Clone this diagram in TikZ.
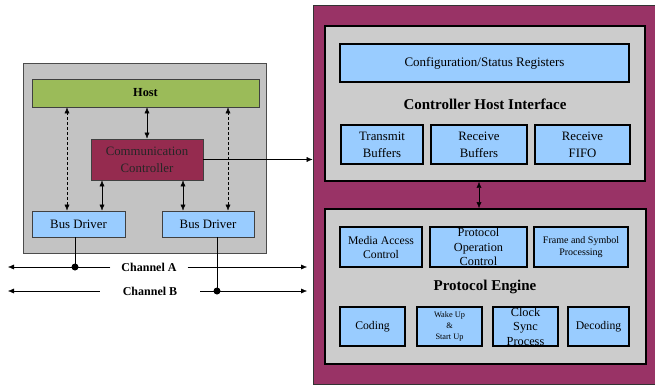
\documentclass[tikz,border=0pt]{standalone}
\usepackage{fontspec}
\setmainfont{Liberation Serif}
\usepackage{tikz}
\usetikzlibrary{positioning,arrows.meta,calc}

\definecolor{ecuGray}{HTML}{C3C3C3}
\definecolor{coreGray}{HTML}{CCCCCC}
\definecolor{hostGreen}{HTML}{9BBB59}
\definecolor{ctlMaroon}{HTML}{952B4F}
\definecolor{corePurple}{HTML}{993366}
\definecolor{blockBlue}{HTML}{99CCFF}

\begin{document}
\begin{tikzpicture}[
  x=1pt, y=-1pt,
  >={Latex[length=6pt,width=5pt]},
  ecuNode/.style={draw=black!75, line width=0.8pt, align=center,
                  inner sep=1pt, font=\fontsize{12.8}{17}\selectfont},
  frameNode/.style={draw=black, line width=1.8pt, fill=coreGray},
  blockNode/.style={draw=black, line width=1.8pt, fill=blockBlue, align=center,
                    inner sep=1pt, font=\fontsize{12.8}{17}\selectfont},
  titleNode/.style={font=\fontsize{15}{17}\selectfont\bfseries},
  chanNode/.style={font=\fontsize{12}{13}\selectfont\bfseries, inner ysep=1pt},
  dotMark/.style={circle, fill=black, inner sep=0pt, minimum size=7pt}
]
  \useasboundingbox (0,0) rectangle (655,385);

  % ECU side
  \node[draw=black!70, line width=0.8pt, fill=ecuGray, minimum width=243,
        minimum height=190] (ecu) at (144.5,158) {};
  \node[ecuNode, fill=hostGreen, minimum width=227, minimum height=28,
        font=\fontsize{12.3}{13}\selectfont\bfseries] (host) at (145.5,93) {Host};
  \node[ecuNode, fill=ctlMaroon, minimum width=112, minimum height=41,
        text=black!85] (comctl) at (147,159.5) {Communication\\Controller};
  \node[ecuNode, fill=blockBlue, minimum width=93, minimum height=26]
    (busdrvA) at (78.5,224) {Bus Driver};
  \node[ecuNode, fill=blockBlue, minimum width=92, minimum height=26]
    (busdrvB) at (208,224) {Bus Driver};

  \draw[<->, densely dashed] ([xshift=-11.5]busdrvA.north) -- ([xshift=-11.5]busdrvA.north |- host.south);
  \draw[<->] ([xshift=23.5]busdrvA.north) -- ([xshift=23.5]busdrvA.north |- comctl.south);
  \draw[<->] (comctl.north) -- (comctl.north |- host.south);
  \draw[<->] ([xshift=-25]busdrvB.north) -- ([xshift=-25]busdrvB.north |- comctl.south);
  \draw[<->, densely dashed] ([xshift=20]busdrvB.north) -- ([xshift=20]busdrvB.north |- host.south);

  % channels
  \coordinate (aLeft) at (8,267);
  \coordinate (aRight) at (307,267);
  \coordinate (bLeft) at (8,291);
  \coordinate (bRight) at (307,291);
  \node[chanNode, inner xsep=11pt] (chanA) at (149,267) {Channel A};
  \node[chanNode, inner xsep=23pt] (chanB) at (150,291) {Channel B};
  \draw[->] (chanA.west) -- (aLeft);
  \draw[->] (chanA.east) -- (aRight);
  \draw[->] (chanB.west) -- (bLeft);
  \draw[->] (chanB.east) -- (bRight);
  \draw ([xshift=-3.5]busdrvA.south) -- ([xshift=-3.5]busdrvA.south |- aLeft)
    node[dotMark] (tapA) {};
  \draw ([xshift=9]busdrvB.south) -- ([xshift=9]busdrvB.south |- bLeft)
    node[dotMark] (tapB) {};

  % FlexRay core
  \node[draw=black!80, line width=0.8pt, fill=corePurple, minimum width=344,
        minimum height=379] (core) at (485,194.5) {};
  \draw[->] (comctl.east) -- (comctl.east -| core.west);

  \node[frameNode, minimum width=320, minimum height=155] (chi) at (485,103.5) {};
  \node[blockNode, minimum width=289, minimum height=38,
        font=\fontsize{13}{15}\selectfont] (cfgreg) at (484.5,63)
    {Configuration/Status Registers};
  \node[titleNode] (chiTitle) at (485,104) {Controller Host Interface};
  \foreach \name/\x/\w/\txt in {txbuf/382/82/Transmit\\Buffers,
                                rxbuf/479/96/Receive\\Buffers,
                                rxfifo/582.5/95/Receive\\FIFO} {
    \node[blockNode, minimum width=\w, minimum height=39] (\name) at (\x,144.5) {\txt};
  }

  \node[frameNode, minimum width=321, minimum height=155] (pe) at (485.5,286.5) {};
  \draw[<->] (chi.south -| rxbuf) -- (pe.north -| rxbuf);

  \node[blockNode, minimum width=82, minimum height=40,
        font=\fontsize{11.7}{14}\selectfont] (mac) at (381,247) {Media Access\\Control};
  \node[blockNode, minimum width=97, minimum height=40, inner ysep=0pt,
        font=\fontsize{12.3}{14.5}\selectfont] (poc) at (478.5,247)
    {Protocol\\Operation\\Control};
  \node[blockNode, minimum width=94, minimum height=40,
        font=\fontsize{10}{12}\selectfont] (fsp) at (581,247)
    {Frame and Symbol\\Processing};
  \node[titleNode] (peTitle) at (485,287) {Protocol Engine};

  \node[blockNode, minimum width=65, minimum height=39,
        font=\fontsize{11.7}{13}\selectfont] (coding) at (372.5,326.5) {Coding};
  \node[blockNode, minimum width=65, minimum height=39,
        font=\fontsize{8.3}{10.5}\selectfont] (wakeup) at (449.5,326.5)
    {Wake Up\\\&\\Start Up};
  \node[blockNode, minimum width=65, minimum height=39, inner ysep=0pt,
        font=\fontsize{12.3}{14.5}\selectfont] (csp) at (525.5,326.5)
    {Clock\\Sync\\Process};
  \node[blockNode, minimum width=61, minimum height=39,
        font=\fontsize{11.7}{13}\selectfont] (decoding) at (598.5,326.5) {Decoding};
\end{tikzpicture}
\end{document}
